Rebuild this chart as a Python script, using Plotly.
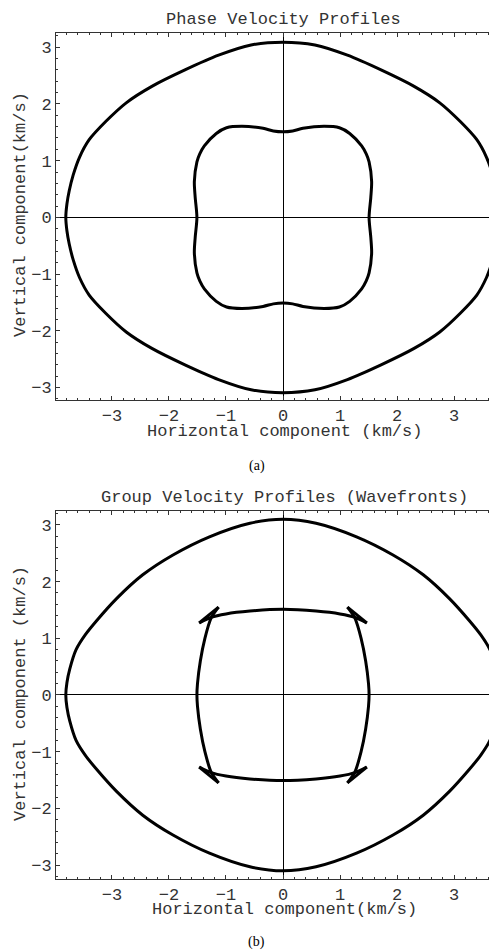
import plotly.graph_objects as go

# page is rendered with an 8px body margin; figure sized so its right/bottom meet the window edge
OFF = 8
W, H = 497 - OFF, 950 - OFF

# ---------------- data ----------------
tick_vals = [-3, -2, -1, 0, 1, 2, 3]

# Phase velocity: outer (qP) curve, counter-clockwise
phase_outer_x = [3.81, 3.79, 3.75, 3.68, 3.57, 3.40, 3.11, 2.75, 2.30, 1.72, 1.13, 0.56, 0,
                 -0.56, -1.13, -1.72, -2.30, -2.75, -3.11, -3.40, -3.57, -3.68, -3.75, -3.79, -3.81,
                 -3.79, -3.75, -3.68, -3.57, -3.40, -3.11, -2.75, -2.30, -1.72, -1.13, -0.56, 0,
                 0.56, 1.13, 1.72, 2.30, 2.75, 3.11, 3.40, 3.57, 3.68, 3.75, 3.79, 3.81]
phase_outer_y = [0, 0.24, 0.47, 0.75, 1.06, 1.37, 1.69, 2.02, 2.31, 2.60, 2.86, 3.04, 3.09,
                 3.04, 2.86, 2.60, 2.31, 2.02, 1.69, 1.37, 1.06, 0.75, 0.47, 0.24, 0,
                 -0.24, -0.47, -0.75, -1.06, -1.37, -1.69, -2.02, -2.31, -2.60, -2.86, -3.04, -3.09,
                 -3.04, -2.86, -2.60, -2.31, -2.02, -1.69, -1.37, -1.06, -0.75, -0.47, -0.24, 0]

# Phase velocity: inner (qSV) curve
phase_inner_x = [1.51, 1.54, 1.555, 1.51, 1.46, 1.38, 1.17, 0.99, 0.72, 0.35, 0.17, 0,
                 -0.17, -0.35, -0.72, -0.99, -1.17, -1.38, -1.46, -1.51, -1.555, -1.54, -1.51,
                 -1.54, -1.555, -1.51, -1.46, -1.38, -1.17, -0.99, -0.72, -0.35, -0.17, 0,
                 0.17, 0.35, 0.72, 0.99, 1.17, 1.38, 1.46, 1.51, 1.555, 1.54, 1.51]
phase_inner_y = [0, 0.35, 0.63, 0.98, 1.12, 1.26, 1.48, 1.58, 1.605, 1.57, 1.525, 1.51,
                 1.525, 1.57, 1.605, 1.58, 1.48, 1.26, 1.12, 0.98, 0.63, 0.35, 0,
                 -0.35, -0.63, -0.98, -1.12, -1.26, -1.48, -1.58, -1.605, -1.57, -1.525, -1.51,
                 -1.525, -1.57, -1.605, -1.58, -1.48, -1.26, -1.12, -0.98, -0.63, -0.35, 0]

# Group velocity: outer (qP) wavefront
group_outer_x = [3.81, 3.79, 3.74, 3.63, 3.47, 3.27, 2.92, 2.46, 1.93, 1.29, 0.58, 0,
                 -0.58, -1.29, -1.93, -2.46, -2.92, -3.27, -3.47, -3.63, -3.74, -3.79, -3.81,
                 -3.79, -3.74, -3.63, -3.47, -3.27, -2.92, -2.46, -1.93, -1.29, -0.58, 0,
                 0.58, 1.29, 1.93, 2.46, 2.92, 3.27, 3.47, 3.63, 3.74, 3.79, 3.81]
group_outer_y = [0, 0.22, 0.46, 0.80, 1.06, 1.31, 1.70, 2.12, 2.47, 2.79, 3.03, 3.10,
                 3.03, 2.79, 2.47, 2.12, 1.70, 1.31, 1.06, 0.80, 0.46, 0.22, 0,
                 -0.22, -0.46, -0.80, -1.06, -1.31, -1.70, -2.12, -2.47, -2.79, -3.03, -3.10,
                 -3.03, -2.79, -2.47, -2.12, -1.70, -1.31, -1.06, -0.80, -0.46, -0.22, 0]

# Group velocity: inner (qSV) wavefront, arcs between cusps (None separates arcs)
group_arcs_x = [-1.47, -1.26, -1.0, -0.58, 0, 0.58, 1.0, 1.26, 1.47, None,
                -1.47, -1.26, -1.0, -0.58, 0, 0.58, 1.0, 1.26, 1.47, None,
                1.13, 1.26, 1.37, 1.45, 1.50, 1.51, 1.50, 1.45, 1.37, 1.26, 1.13, None,
                -1.13, -1.26, -1.37, -1.45, -1.50, -1.51, -1.50, -1.45, -1.37, -1.26, -1.13]
group_arcs_y = [1.27, 1.37, 1.43, 1.48, 1.51, 1.48, 1.43, 1.37, 1.27, None,
                -1.27, -1.37, -1.43, -1.48, -1.51, -1.48, -1.43, -1.37, -1.27, None,
                1.55, 1.36, 1.0, 0.6, 0.2, 0, -0.2, -0.6, -1.0, -1.36, -1.55, None,
                1.55, 1.36, 1.0, 0.6, 0.2, 0, -0.2, -0.6, -1.0, -1.36, -1.55]
# Cusp edges joining arc tips
group_cusp_x = [1.47, 1.13, None, 1.47, 1.13, None, -1.47, -1.13, None, -1.47, -1.13]
group_cusp_y = [1.27, 1.55, None, -1.27, -1.55, None, 1.27, 1.55, None, -1.27, -1.55]

# ---------------- figure ----------------
MONO = "Liberation Mono, Courier New, monospace"
SERIF = "Liberation Serif, Times New Roman, serif"
TXT = "#333333"
line = dict(color="black", width=3)

fig = go.Figure()
fig.add_trace(go.Scatter(x=phase_outer_x, y=phase_outer_y, mode="lines",
                         line=dict(line, shape="spline", smoothing=0.8), xaxis="x", yaxis="y"))
fig.add_trace(go.Scatter(x=phase_inner_x, y=phase_inner_y, mode="lines",
                         line=dict(line, shape="spline", smoothing=0.8), xaxis="x", yaxis="y"))
fig.add_trace(go.Scatter(x=group_outer_x, y=group_outer_y, mode="lines",
                         line=dict(line, shape="spline", smoothing=0.8), xaxis="x2", yaxis="y2"))
fig.add_trace(go.Scatter(x=group_arcs_x, y=group_arcs_y, mode="lines",
                         line=dict(line, shape="spline", smoothing=0.8), xaxis="x2", yaxis="y2"))
fig.add_trace(go.Scatter(x=group_cusp_x, y=group_cusp_y, mode="lines",
                         line=line, xaxis="x2", yaxis="y2"))


def px_x(p):
    return (p - OFF) / W


def px_y(p):
    return 1 - (p - OFF) / H


common = dict(
    showline=True, linecolor=TXT, linewidth=1,
    ticks="inside", ticklen=4, tickwidth=1, tickcolor=TXT,
    tickvals=tick_vals, showgrid=False,
    zeroline=True, zerolinecolor="black", zerolinewidth=1,
    tickfont=dict(family=MONO, size=17, color=TXT),
    minor=dict(ticks="inside", ticklen=2, tickwidth=1, tickcolor=TXT, dtick=0.2, tick0=0, showgrid=False),
)

xdom = [px_x(56), 1.0]
xr = [-3.982, 3.754]

fig.update_layout(
    width=W, height=H, margin=dict(l=0, r=0, t=0, b=0),
    paper_bgcolor="white", plot_bgcolor="white", showlegend=False,
    xaxis=dict(common, domain=xdom, range=xr, anchor="y", mirror="ticks"),
    yaxis=dict(common, domain=[px_y(400), px_y(32.5)], range=[-3.22, 3.26], anchor="x", mirror=False),
    xaxis2=dict(common, domain=xdom, range=xr, anchor="y2", mirror="ticks"),
    yaxis2=dict(common, domain=[px_y(879), px_y(510.7)], range=[-3.245, 3.25], anchor="x2", mirror=False),
)

texts = [
    ("Phase Velocity Profiles", 283.5, 20, 0, MONO, 17),
    ("Horizontal component (km/s)", 284.5, 431, 0, MONO, 17),
    ("Vertical component(km/s)", 20, 215, -90, MONO, 17),
    ("(a)", 256.5, 466, 0, SERIF, 14),
    ("Group Velocity Profiles (Wavefronts)", 284.5, 497.7, 0, MONO, 17),
    ("Horizontal component(km/s)", 284.2, 909, 0, MONO, 17),
    ("Vertical component (km/s)", 20, 694, -90, MONO, 17),
    ("(b)", 256, 942, 0, SERIF, 14),
]
for t, x, y, ang, fam, sz in texts:
    fig.add_annotation(text=t, x=px_x(x), y=px_y(y), xref="paper", yref="paper",
                       xanchor="center", yanchor="middle", showarrow=False, textangle=ang,
                       font=dict(family=fam, size=sz, color=TXT if fam == MONO else "black"))

fig.write_html("out.html")
